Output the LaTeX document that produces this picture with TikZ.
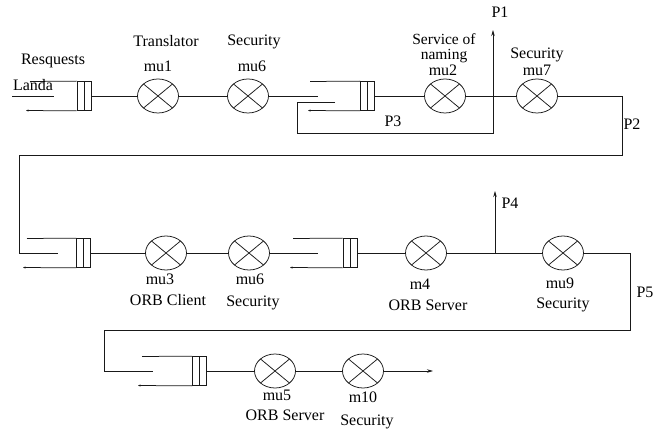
\documentclass[tikz,border=0pt]{standalone}
\usepackage{fontspec}
\setmainfont{Liberation Serif}
\usetikzlibrary{shapes.geometric,arrows.meta}
\tikzset{
  ln/.style={line width=0.75pt, draw=black!90},
  mult/.style={ln, ellipse, minimum width=41pt, minimum height=34pt, inner sep=0pt,
    path picture={\draw[ln] (path picture bounding box.south west) -- (path picture bounding box.north east)
      (path picture bounding box.north west) -- (path picture bounding box.south east);}},
  qbox/.style={ln, rectangle, minimum width=14pt, minimum height=29pt, inner sep=0pt,
    path picture={\draw[ln] (path picture bounding box.north) -- (path picture bounding box.south);}},
  lbl/.style={inner sep=0pt, font=\fontsize{16}{18}\selectfont, text height=10.8pt, text depth=3pt},
  qtip/.style={-{Stealth[length=2.5pt,width=2pt]}},
  atip/.style={-{Stealth[length=6pt,width=3.5pt]}}
}
\begin{document}
\begin{tikzpicture}[x=1pt,y=-1pt]
\useasboundingbox (0,0) rectangle (658,430);
% ---------- row 1 ----------
\node[qbox] (q1) at (84,96) {};
\node[mult] (mu1) at (158,96) {};
\node[mult] (mu6a) at (248,96) {};
\node[qbox] (q2) at (367.5,96) {};
\node[mult] (mu2) at (445,96) {};
\node[mult] (mu7) at (537,96) {};
\coordinate (lamA) at (12,96);
\coordinate (lamB) at (54,96);
\coordinate (q1t) at (30,81.5);
\coordinate (q1b) at (26,110.5);
\coordinate (q2in) at (318,96);
\coordinate (q2t) at (310,81.5);
\coordinate (q2b) at (308,110.5);
\coordinate (p3in) at (335,102);
\coordinate (p3c) at (297,133);
\coordinate (b1) at (493,96);
\coordinate (p1end) at (493,30);
\coordinate (t1) at (622,96);
\coordinate (t2) at (19,155);
\coordinate (q3in) at (58,253);

\draw[ln] (lamA) -- (lamB);
\draw[ln] (q1.north west) -- (q1t);
\draw[ln,qtip] (q1.south west) -- (q1b);
\draw[ln] (q1) -- (mu1);
\draw[ln] (mu1) -- (mu6a);
\draw[ln] (mu6a) -- (q2in);
\draw[ln] (q2.north west) -- (q2t);
\draw[ln,qtip] (q2.south west) -- (q2b);
\draw[ln] (p3in) -| (p3c) -| (b1);
\draw[ln,atip] (b1) -- (p1end);
\draw[ln] (q2) -- (mu2);
\draw[ln] (mu2) -- (mu7);
\draw[ln] (mu7) -- (t1) |- (t2) |- (q3in);

\node[lbl] (tRes) at (53,61) {Resquests};
\node[lbl] (tLan) at (33,87) {Landa};
\node[lbl] (tTra) at (166,43) {Translator};
\node[lbl] (tmu1) at (158,68) {mu1};
\node[lbl] (tSe1) at (254,42) {Security};
\node[lbl] (tmu6a) at (252,68) {mu6};
\node[inner sep=0pt, align=center, font=\fontsize{15.5}{15.5}\selectfont] (tSvc) at (444,48) {Service of\\naming};
\node[lbl] (tmu2) at (443,72) {mu2};
\node[lbl] (tSe2) at (537,55) {Security};
\node[lbl] (tmu7) at (537,72) {mu7};
\node[lbl] (tP1) at (500,14) {P1};
\node[lbl] (tP2) at (632,126) {P2};
\node[lbl] (tP3) at (393,123) {P3};

% ---------- row 2 ----------
\node[qbox] (q3) at (83.5,253) {};
\node[mult] (mu3) at (166,253) {};
\node[mult] (mu6b) at (249,253) {};
\node[qbox] (q4) at (350,253) {};
\node[mult] (m4) at (426,253) {};
\node[mult] (mu9) at (563,253) {};
\coordinate (q3t) at (27,238.5);
\coordinate (q3b) at (23,267.5);
\coordinate (q4in) at (318,253);
\coordinate (q4t) at (293,238.5);
\coordinate (q4b) at (290,267.5);
\coordinate (b2) at (495,253);
\coordinate (p4end) at (495,191);
\coordinate (t3) at (630,253);
\coordinate (t4) at (104,330);
\coordinate (q5in) at (153,371);

\draw[ln] (q3.north west) -- (q3t);
\draw[ln,qtip] (q3.south west) -- (q3b);
\draw[ln] (q3) -- (mu3);
\draw[ln] (mu3) -- (mu6b);
\draw[ln] (mu6b) -- (q4in);
\draw[ln] (q4.north west) -- (q4t);
\draw[ln,qtip] (q4.south west) -- (q4b);
\draw[ln] (q4) -- (m4);
\draw[ln] (m4) -- (mu9);
\draw[ln,atip] (b2) -- (p4end);
\draw[ln] (mu9) -- (t3) |- (t4) |- (q5in);

\node[lbl] (tmu3) at (160,281) {mu3};
\node[lbl] (tOC) at (168,302) {ORB Client};
\node[lbl] (tmu6b) at (250,281) {mu6};
\node[lbl] (tSe3) at (253,303) {Security};
\node[lbl] (tm4) at (420,286) {m4};
\node[lbl] (tOS1) at (428,307) {ORB Server};
\node[lbl] (tmu9) at (560,285) {mu9};
\node[lbl] (tSe4) at (563,305) {Security};
\node[lbl] (tP4) at (510,205) {P4};
\node[lbl] (tP5) at (645,294) {P5};

% ---------- row 3 ----------
\node[qbox] (q5) at (199.5,371) {};
\node[mult] (mu5) at (275,371) {};
\node[mult] (m10) at (363,371) {};
\coordinate (q5t) at (142,356.5);
\coordinate (q5b) at (138,385.5);
\coordinate (out) at (433,371);

\draw[ln] (q5.north west) -- (q5t);
\draw[ln,qtip] (q5.south west) -- (q5b);
\draw[ln] (q5) -- (mu5);
\draw[ln] (mu5) -- (m10);
\draw[ln,atip] (m10) -- (out);

\node[lbl] (tmu5) at (277,397) {mu5};
\node[lbl] (tOS2) at (285,417) {ORB Server};
\node[lbl] (tm10) at (363,399) {m10};
\node[lbl] (tSe5) at (367,422) {Security};
\end{tikzpicture}
\end{document}
